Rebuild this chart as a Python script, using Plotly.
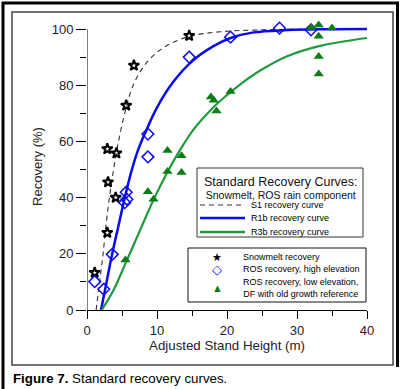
import plotly.graph_objects as go

# ---------------- data ----------------
snow_x = [1.1, 2.9, 4.1, 3.0, 2.9, 4.2, 5.6, 6.7, 14.6]
snow_y = [13.3, 27.5, 40.0, 45.5, 57.3, 55.8, 72.8, 87.0, 97.6]

ros_hi_x = [1.1, 2.4, 3.6, 5.4, 5.7, 5.6, 8.7, 8.7, 14.6, 20.5, 27.5, 32.0]
ros_hi_y = [10.1, 7.4, 19.8, 38.2, 39.4, 41.9, 54.5, 62.6, 90.0, 97.1, 100.3, 99.7]

ros_lo_x = [5.5, 8.7, 9.5, 11.5, 13.5, 11.5, 13.5, 17.7, 18.1, 18.5, 20.5,
            32.0, 33.1, 35.0, 33.1, 33.1, 33.1]
ros_lo_y = [17.8, 42.1, 39.4, 56.8, 54.9, 49.3, 48.9, 75.8, 74.6, 70.8, 77.8,
            100.5, 101.4, 100.4, 97.4, 90.2, 84.0]

s1_x = [1.3, 1.8, 2.3, 2.7, 3.2, 3.8, 4.5, 5.4, 6.6, 8.5, 11.0, 14.5, 19.0, 25.0, 32.0, 40.0]
s1_y = [0, 10, 20, 30, 40, 50, 60, 70, 80, 88, 93.5, 97.3, 99.0, 99.7, 99.9, 100]

r1b_x = [2.0, 2.8, 3.6, 4.5, 5.4, 6.3, 7.3, 8.5, 9.9, 12.3, 15.0, 18.0, 20.5, 23.8, 28.6, 34.0, 40.0]
r1b_y = [0, 10, 20, 30, 40, 49, 57, 64.1, 71.6, 81.1, 88.5, 93.8, 96.8, 98.8, 99.6, 99.9, 100]

r3b_x = [2.1, 3.8, 5.5, 7.6, 9.5, 11.4, 13.3, 15.4, 18.0, 20.0, 22.0, 24.8, 28.6, 33.3, 40.0]
r3b_y = [0, 7.1, 16.6, 28.5, 39.2, 48.7, 57.0, 64.8, 72.0, 76.5, 80.5, 85.3, 90.3, 94.0, 96.8]

x_ticks = [0, 10, 20, 30, 40]
y_ticks = [0, 20, 40, 60, 80, 100]

# ---------------- layout geometry ----------------
W, H = 403, 389
L, R, T, B = 87, 36, 23, 79
PW, PH = W - L - R, H - T - B
Y_TOP = 100 * PH / (H - B - 29)   # y=100 lands 29 px from the top; headroom for points above 100


def px(x):
    return (x - L) / PW


def py(y):
    return (H - B - y) / PH


FONT = "Arial, Liberation Sans, sans-serif"
BLUE = "#0a0af5"
GREEN_LINE = "#1f9a3c"
GREEN_MK = "#0b7d12"

fig = go.Figure()

fig.add_trace(go.Scatter(x=s1_x, y=s1_y, mode="lines", name="S1 recovery curve",
                         line=dict(color="#333333", width=1.1, dash="5px,4px", shape="spline")))
fig.add_trace(go.Scatter(x=r1b_x, y=r1b_y, mode="lines", name="R1b recovery curve",
                         line=dict(color=BLUE, width=2.5, shape="spline")))
fig.add_trace(go.Scatter(x=r3b_x, y=r3b_y, mode="lines", name="R3b recovery curve",
                         line=dict(color=GREEN_LINE, width=2.2, shape="spline")))

fig.add_trace(go.Scatter(x=snow_x, y=snow_y, mode="markers", name="Snowmelt recovery",
                         cliponaxis=False,
                         marker=dict(symbol="star-open", size=8, color="black",
                                     line=dict(width=2, color="black"))))
fig.add_trace(go.Scatter(x=ros_hi_x, y=ros_hi_y, mode="markers",
                         name="ROS recovery, high elevation", cliponaxis=False,
                         marker=dict(symbol="diamond-open", size=9, color=BLUE,
                                     line=dict(width=1.5, color=BLUE))))
fig.add_trace(go.Scatter(x=ros_lo_x, y=ros_lo_y, mode="markers",
                         name="ROS recovery, low elevation, DF with old growth reference",
                         cliponaxis=False,
                         marker=dict(symbol="triangle-up", size=9, color=GREEN_MK,
                                     line=dict(width=0))))

shapes = []
# y-axis spine from 0 to 100 only
shapes.append(dict(type="line", xref="x", yref="y", x0=0, x1=0, y0=0, y1=100,
                   line=dict(color="black", width=1), layer="below"))
# outer frame (thick) and inner border
shapes.append(dict(type="line", xref="paper", yref="paper", x0=px(2), x1=px(399), y0=py(3), y1=py(3),
                   line=dict(color="black", width=3)))
shapes.append(dict(type="line", xref="paper", yref="paper", x0=px(3), x1=px(3), y0=py(2), y1=py(392),
                   line=dict(color="black", width=3)))
shapes.append(dict(type="line", xref="paper", yref="paper", x0=px(397.5), x1=px(397.5), y0=py(2), y1=py(367),
                   line=dict(color="black", width=3)))
shapes.append(dict(type="rect", xref="paper", yref="paper", x0=px(12), x1=px(393), y0=py(12), y1=py(365),
                   line=dict(color="#444444", width=1.5)))
# legend boxes
shapes.append(dict(type="rect", xref="paper", yref="paper", x0=px(197), x1=px(363), y0=py(168), y1=py(237),
                   line=dict(color="#333333", width=1), fillcolor="white", layer="above"))
shapes.append(dict(type="rect", xref="paper", yref="paper", x0=px(188), x1=px(366), y0=py(248), y1=py(302),
                   line=dict(color="#111111", width=1), fillcolor="white", layer="above"))
# legend line samples
shapes.append(dict(type="line", xref="paper", yref="paper", x0=px(200), x1=px(245), y0=py(205), y1=py(205),
                   line=dict(color="#333333", width=1, dash="5px,4px"), layer="above"))
shapes.append(dict(type="line", xref="paper", yref="paper", x0=px(200), x1=px(245), y0=py(218), y1=py(218),
                   line=dict(color=BLUE, width=2.5), layer="above"))
shapes.append(dict(type="line", xref="paper", yref="paper", x0=px(200), x1=px(245), y0=py(232), y1=py(232),
                   line=dict(color=GREEN_LINE, width=2.5), layer="above"))

ann = []


def text(s, x, y, size, color="black", xanchor="left"):
    ann.append(dict(text=s, x=px(x), y=py(y), xref="paper", yref="paper", showarrow=False,
                    xanchor=xanchor, yanchor="middle", font=dict(family=FONT, size=size, color=color)))


text("<span style='font-size:12.5px'>Standard Recovery Curves:</span><br>"
     "<span style='font-size:10.5px'>Snowmelt, ROS rain component</span>", 281, 187.5, 10, "#111111", "center")
text("S1 recovery curve", 249, 205, 9)
text("R1b recovery curve", 249, 218, 9)
text("R3b recovery curve", 249, 232, 9)

text("★", 217, 257, 11, "black", "center")
text("◇", 217, 269, 13, BLUE, "center")
text("▲", 217, 288, 11, GREEN_MK, "center")
text("Snowmelt recovery", 241, 257, 9)
text("ROS recovery, high elevation", 241, 269, 9)
text("ROS recovery, low elevation,<br>DF with old growth reference", 241, 288, 9)

text("<b>Figure 7.</b> Standard recovery curves.", 11, 378.5, 13.3)

fig.update_layout(
    width=W, height=H,
    margin=dict(l=L, r=R, t=T, b=B, autoexpand=False),
    paper_bgcolor="white", plot_bgcolor="white",
    showlegend=False,
    font=dict(family=FONT, color="#222222"),
    shapes=shapes, annotations=ann,
    xaxis=dict(range=[0, 40], tickvals=x_ticks, ticktext=[str(v) for v in x_ticks],
               showline=True, linecolor="black", linewidth=1, ticks="outside", ticklen=8,
               tickcolor="black", showgrid=False, zeroline=False, tickfont=dict(size=13),
               minor=dict(dtick=5, tick0=0, ticks="outside", ticklen=5, tickcolor="black", showgrid=False),
               title=dict(text="Adjusted Stand Height (m)", font=dict(size=13.3), standoff=0),
               automargin=False),
    yaxis=dict(range=[0, Y_TOP], tickvals=y_ticks, ticktext=[str(v) for v in y_ticks],
               showline=False, ticks="outside", ticklen=10,
               tickcolor="black", showgrid=False, zeroline=False, tickfont=dict(size=13),
               minor=dict(tickvals=[10, 30, 50, 70, 90], ticks="outside", ticklen=6,
                          tickcolor="black", showgrid=False),
               title=dict(text="Recovery (%)", font=dict(size=13), standoff=6),
               automargin=False),
)

fig.write_html("out.html", config={"displayModeBar": False},
               post_script="document.body.style.margin='0';document.body.style.overflow='hidden';")
